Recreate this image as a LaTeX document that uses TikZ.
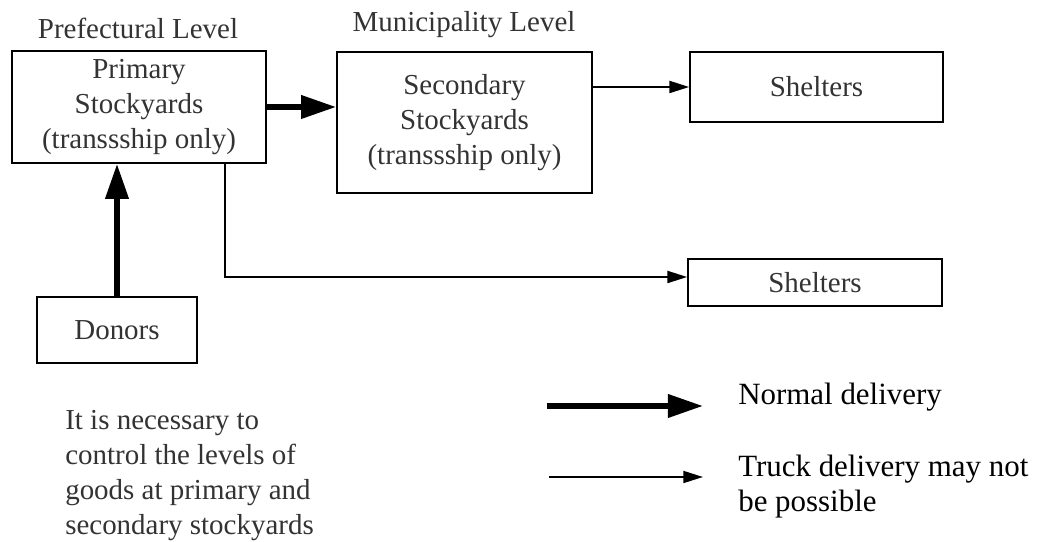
\documentclass[tikz,border=0pt]{standalone}
\usepackage{fontspec}
\setmainfont{Liberation Serif}
\usetikzlibrary{arrows.meta}

\begin{document}
\begin{tikzpicture}[
  box/.style={draw, line width=1.2pt, inner sep=0pt, align=center, text=black!80, font=\fontsize{20.6pt}{24.9pt}\selectfont},
  lbl/.style={inner sep=0pt, text=black!80, font=\fontsize{20.6pt}{24.9pt}\selectfont},
  legend/.style={inner sep=0pt, align=left, font=\fontsize{22pt}{24.9pt}\selectfont},
  normal/.style={line width=4pt, -{Triangle[length=25pt,width=16pt]}},
  truck/.style={line width=1.4pt, -{Triangle[length=14pt,width=8.5pt]}}]
  \useasboundingbox (0,0) rectangle (26.175,13.55);
  \node[box, minimum width=6.35cm, minimum height=2.8cm] (primary) at (3.475,10.875) {Primary\\Stockyards\\(transsship only)};
  \node[box, minimum width=6.375cm, minimum height=3.525cm] (secondary) at (11.6125,10.4875) {Secondary\\Stockyards\\(transsship only)};
  \node[box, minimum width=6.325cm, minimum height=1.75cm] (shelter1) at (20.4125,11.375) {Shelters};
  \node[box, minimum width=6.35cm, minimum height=1.175cm] (shelter2) at (20.375,6.4875) {Shelters};
  \node[box, minimum width=4cm, minimum height=1.65cm] (donors) at (2.925,5.3) {Donors};
  \node[lbl, anchor=base] (prefLevel) at (3.45,12.575) {Prefectural Level};
  \node[lbl, anchor=base] (muniLevel) at (11.6,12.75) {Municipality Level};
  \node[lbl, anchor=north west, align=left] (note) at (1.625,3.3) {It is necessary to\\control the levels of\\goods at primary and\\secondary stockyards};

  \draw[normal] (primary.east) -- (primary.east -| secondary.west);
  \draw[normal] (donors.north) -- (donors.north |- primary.south);
  \draw[truck] (secondary.east |- shelter1) -- (shelter1.west);
  \coordinate (turn) at (5.625,6.625);
  \draw[truck] (turn |- primary.south) -- (turn) -- (turn -| shelter2.west);

  \coordinate (normalStart) at (13.675,3.4);
  \coordinate (normalEnd) at (17.575,3.4);
  \coordinate (truckStart) at (13.725,1.625);
  \coordinate (truckEnd) at (17.575,1.625);
  \draw[normal] (normalStart) -- (normalEnd);
  \draw[truck] (truckStart) -- (truckEnd);
  \node[legend, anchor=base west] (normalText) at (18.45,3.425) {Normal delivery};
  \node[legend, anchor=north west] (truckText) at (18.45,2.175) {Truck delivery may not\\be possible};
\end{tikzpicture}
\end{document}
